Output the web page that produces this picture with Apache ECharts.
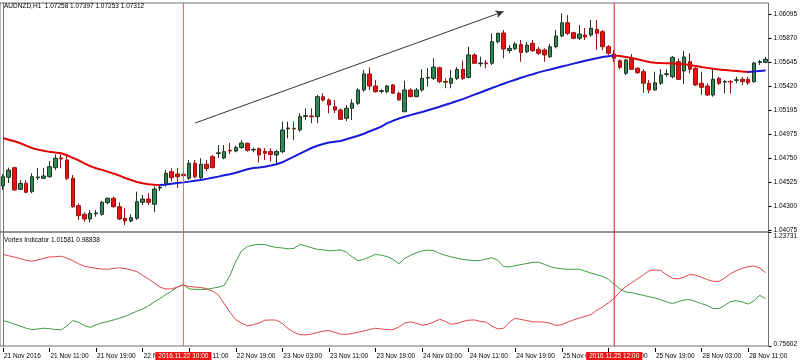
<!DOCTYPE html>
<html><head><meta charset="utf-8">
<script src="https://cdn.jsdelivr.net/npm/echarts@6/dist/echarts.min.js"></script>
<style>html,body{margin:0;padding:0;background:#fff}#c{width:800px;height:364px}</style>
</head><body><div id="c"></div>
<script>
const titleText = 'AUDNZD,H1  1.07258 1.07397 1.07253 1.07312';
const indicatorText = 'Vortex Indicator 1.01581 0.98838';
// trading sessions: [day, first hour, last hour]
const sessions = [['21 Nov',3,23],['22 Nov',0,23],['23 Nov',0,23],['24 Nov',0,23],['25 Nov',0,23],['28 Nov',0,14]];
const categories = [];
sessions.forEach(s => { for (let h = s[1]; h <= s[2]; h++) categories.push(s[0] + ' ' + (h < 10 ? '0' : '') + h + ':00'); });
const xTickLabels = ['21 Nov 2016','21 Nov 11:00','21 Nov 19:00','22 Nov 03:00','22 Nov 11:00','22 Nov 19:00','23 Nov 03:00','23 Nov 11:00','23 Nov 19:00','24 Nov 03:00','24 Nov 11:00','24 Nov 19:00','25 Nov 03:00','25 Nov 11:00','25 Nov 19:00','28 Nov 03:00','28 Nov 11:00'];
const priceTicks = [1.04075,1.04300,1.04525,1.04750,1.04975,1.05195,1.05420,1.05645,1.05870,1.06095];
const vortexTickLabels = ['0.75602','1.23731'];

const open = [1.04490,1.04569,1.04659,1.04456,1.04512,1.04434,1.04564,1.04559,1.04574,1.04659,
1.04750,1.04731,1.04559,1.04303,1.04222,1.04178,1.04227,1.04222,1.04331,1.04372,
1.04293,1.04185,1.04159,1.04185,1.04334,1.04365,1.04316,1.04468,1.04512,1.04621,
1.04600,1.04597,1.04559,1.04700,1.04565,1.04691,1.04762,1.04791,1.04750,1.04823,
1.04815,1.04848,1.04887,1.04825,1.04837,1.04812,1.04810,1.04778,1.04809,1.05023,
1.05028,1.05012,1.05139,1.05143,1.05137,1.05324,1.05293,1.05230,1.05199,1.05122,
1.05215,1.05262,1.05387,1.05537,1.05424,1.05374,1.05371,1.05434,1.05356,1.05183,
1.05387,1.05324,1.05387,1.05498,1.05496,1.05595,1.05466,1.05450,1.05496,1.05581,
1.05504,1.05715,1.05633,1.05640,1.05637,1.05839,1.05921,1.05757,1.05773,1.05813,
1.05746,1.05824,1.05768,1.05762,1.05699,1.05792,1.05893,1.06017,1.05924,1.05871,
1.05902,1.05902,1.05955,1.05933,1.05792,1.05724,1.05661,1.05543,1.05674,1.05590,
1.05558,1.05450,1.05387,1.05450,1.05533,1.05511,1.05652,1.05565,1.05652,1.05590,
1.05450,1.05424,1.05340,1.05496,1.05461,1.05467,1.05477,1.05487,1.05487,1.05465,
1.05645,1.05646];
const high = [1.04600,1.04659,1.04668,1.04543,1.04543,1.04606,1.04656,1.04656,1.04721,1.04784,
1.04784,1.04778,1.04590,1.04325,1.04241,1.04262,1.04262,1.04347,1.04378,1.04387,
1.04334,1.04278,1.04222,1.04434,1.04403,1.04419,1.04481,1.04497,1.04637,1.04653,
1.04656,1.04621,1.04731,1.04731,1.04747,1.04731,1.04778,1.04871,1.04871,1.04890,
1.04867,1.04918,1.04897,1.04846,1.04846,1.04843,1.04843,1.04825,1.05090,1.05090,
1.05090,1.05168,1.05215,1.05215,1.05340,1.05356,1.05309,1.05293,1.05215,1.05246,
1.05300,1.05403,1.05574,1.05599,1.05480,1.05393,1.05434,1.05443,1.05371,1.05474,
1.05403,1.05405,1.05581,1.05593,1.05684,1.05605,1.05496,1.05574,1.05602,1.05661,
1.05792,1.05731,1.05699,1.05668,1.05918,1.05924,1.05949,1.05808,1.05837,1.05855,
1.05837,1.05855,1.05790,1.05777,1.05818,1.05949,1.06105,1.06089,1.05933,1.05996,
1.05968,1.06043,1.06043,1.05949,1.05808,1.05762,1.05674,1.05677,1.05724,1.05602,
1.05581,1.05480,1.05558,1.05581,1.05581,1.05705,1.05684,1.05752,1.05731,1.05599,
1.05558,1.05450,1.05581,1.05511,1.05480,1.05480,1.05511,1.05511,1.05511,1.05652,
1.05668,1.05696];
const low = [1.04450,1.04515,1.04440,1.04450,1.04419,1.04419,1.04543,1.04553,1.04565,1.04637,
1.04653,1.04543,1.04284,1.04169,1.04153,1.04147,1.04200,1.04209,1.04316,1.04284,
1.04169,1.04122,1.04147,1.04169,1.04309,1.04309,1.04241,1.04440,1.04481,1.04528,
1.04468,1.04559,1.04543,1.04559,1.04553,1.04628,1.04653,1.04750,1.04737,1.04787,
1.04803,1.04834,1.04809,1.04803,1.04707,1.04731,1.04715,1.04684,1.04794,1.04934,
1.04918,1.04996,1.05106,1.05075,1.05075,1.05277,1.05168,1.05168,1.05106,1.05096,
1.05106,1.05246,1.05371,1.05387,1.05361,1.05356,1.05356,1.05349,1.05286,1.05183,
1.05318,1.05321,1.05371,1.05418,1.05480,1.05450,1.05403,1.05403,1.05480,1.05480,
1.05496,1.05630,1.05605,1.05590,1.05621,1.05824,1.05684,1.05731,1.05762,1.05652,
1.05733,1.05743,1.05715,1.05652,1.05687,1.05777,1.05881,1.05902,1.05862,1.05855,
1.05855,1.05886,1.05762,1.05762,1.05715,1.05649,1.05581,1.05527,1.05574,1.05537,
1.05361,1.05356,1.05380,1.05434,1.05511,1.05496,1.05480,1.05443,1.05543,1.05424,
1.05340,1.05330,1.05324,1.05434,1.05356,1.05356,1.05450,1.05434,1.05434,1.05455,
1.05621,1.05637];
const close = [1.04574,1.04637,1.04450,1.04512,1.04428,1.04574,1.04571,1.04581,1.04668,1.04747,
1.04740,1.04559,1.04293,1.04209,1.04178,1.04231,1.04234,1.04334,1.04372,1.04293,
1.04178,1.04159,1.04190,1.04340,1.04365,1.04334,1.04459,1.04475,1.04606,1.04565,
1.04574,1.04584,1.04700,1.04574,1.04691,1.04651,1.04659,1.04798,1.04809,1.04815,
1.04848,1.04890,1.04822,1.04830,1.04778,1.04794,1.04782,1.04810,1.05012,1.05031,
1.05021,1.05137,1.05146,1.05136,1.05324,1.05293,1.05246,1.05199,1.05112,1.05215,
1.05262,1.05387,1.05537,1.05424,1.05371,1.05380,1.05424,1.05356,1.05293,1.05387,
1.05324,1.05387,1.05496,1.05505,1.05602,1.05465,1.05460,1.05496,1.05579,1.05496,
1.05715,1.05637,1.05640,1.05633,1.05839,1.05918,1.05771,1.05777,1.05818,1.05738,
1.05808,1.05755,1.05731,1.05715,1.05792,1.05893,1.06017,1.05918,1.05871,1.05911,
1.05883,1.05965,1.05918,1.05792,1.05731,1.05684,1.05599,1.05668,1.05581,1.05549,
1.05450,1.05387,1.05455,1.05527,1.05539,1.05693,1.05487,1.05696,1.05581,1.05434,
1.05412,1.05340,1.05487,1.05450,1.05467,1.05461,1.05483,1.05465,1.05455,1.05640,
1.05652,1.05674];
const movingAverage = [1.04936,1.04921,1.04906,1.04888,1.04866,1.04843,1.04828,1.04817,1.04807,1.04800,
1.04794,1.04775,1.04751,1.04728,1.04700,1.04673,1.04654,1.04638,1.04622,1.04603,
1.04585,1.04562,1.04543,1.04525,1.04512,1.04503,1.04499,1.04497,1.04502,1.04509,
1.04515,1.04521,1.04528,1.04536,1.04543,1.04554,1.04565,1.04575,1.04587,1.04598,
1.04611,1.04627,1.04644,1.04655,1.04661,1.04668,1.04679,1.04691,1.04709,1.04737,
1.04762,1.04790,1.04817,1.04843,1.04864,1.04881,1.04895,1.04902,1.04909,1.04925,
1.04942,1.04958,1.04977,1.05000,1.05021,1.05044,1.05076,1.05098,1.05119,1.05136,
1.05151,1.05166,1.05181,1.05197,1.05213,1.05230,1.05248,1.05265,1.05283,1.05301,
1.05322,1.05343,1.05363,1.05384,1.05405,1.05425,1.05445,1.05465,1.05483,1.05502,
1.05519,1.05535,1.05552,1.05566,1.05579,1.05593,1.05607,1.05620,1.05634,1.05647,
1.05660,1.05673,1.05684,1.05695,1.05703,1.05710,1.05705,1.05696,1.05687,1.05674,
1.05662,1.05650,1.05643,1.05639,1.05637,1.05634,1.05631,1.05628,1.05621,1.05612,
1.05602,1.05594,1.05585,1.05578,1.05574,1.05569,1.05565,1.05559,1.05555,1.05559,
1.05564,1.05569];
// bar indices where the MA colour switches (red -> blue -> red -> blue)
const maColorChanges = [27, 105, 128];
const viPlus = [0.863,0.857,0.848,0.840,0.831,0.825,0.828,0.831,0.829,0.826,
0.824,0.841,0.863,0.856,0.842,0.835,0.845,0.854,0.859,0.866,
0.873,0.881,0.892,0.903,0.912,0.926,0.942,0.957,0.973,0.988,
1.005,1.016,0.997,0.995,0.995,0.995,1.000,1.004,1.012,1.054,
1.113,1.158,1.176,1.182,1.185,1.184,1.177,1.172,1.170,1.166,
1.168,1.185,1.179,1.171,1.164,1.162,1.158,1.159,1.162,1.152,
1.132,1.116,1.122,1.132,1.143,1.139,1.134,1.122,1.103,1.125,
1.139,1.149,1.157,1.161,1.159,1.147,1.139,1.132,1.127,1.121,
1.119,1.116,1.117,1.123,1.129,1.118,1.091,1.090,1.095,1.100,
1.104,1.109,1.110,1.101,1.091,1.085,1.082,1.080,1.080,1.080,
1.072,1.064,1.057,1.050,1.038,1.016,0.997,0.984,0.981,0.975,
0.970,0.964,0.959,0.951,0.942,0.935,0.943,0.950,0.952,0.944,
0.935,0.927,0.914,0.914,0.928,0.944,0.947,0.942,0.933,0.947,
0.970,0.956];
const viMinus = [1.143,1.137,1.131,1.125,1.118,1.114,1.119,1.126,1.132,1.133,
1.135,1.127,1.116,1.103,1.093,1.088,1.084,1.081,1.080,1.083,
1.086,1.083,1.077,1.070,1.054,1.039,1.022,1.004,0.997,0.997,
1.005,1.014,1.007,1.005,1.003,0.998,0.988,0.972,0.935,0.899,
0.867,0.852,0.841,0.846,0.853,0.865,0.866,0.865,0.851,0.829,
0.814,0.804,0.803,0.807,0.813,0.819,0.821,0.814,0.806,0.805,
0.809,0.814,0.820,0.826,0.831,0.828,0.825,0.825,0.836,0.853,
0.858,0.852,0.844,0.848,0.857,0.869,0.860,0.848,0.851,0.860,
0.865,0.866,0.860,0.857,0.840,0.828,0.831,0.857,0.873,0.868,
0.863,0.858,0.858,0.857,0.852,0.843,0.846,0.857,0.866,0.874,
0.881,0.889,0.907,0.921,0.938,0.957,0.986,1.007,1.023,1.040,
1.056,1.074,1.077,1.075,1.056,1.042,1.039,1.047,1.058,1.055,
1.046,1.036,1.029,1.029,1.044,1.062,1.074,1.084,1.091,1.094,
1.085,1.066];
const markerTimes = ['22 Nov 10:00','25 Nov 12:00'];
const markerLabels = ['2016.11.22 10:00','2016.11.25 12:00'];
const arrowStart = [33.33, 1.05077];
const arrowEnd = [86.27, 1.06122];

const FONT = 'Liberation Sans';
const FS = 6.5;
const FRAME = '#707070';
const RED = '#e00000', BLUE = '#1818d8';
const LINE1 = '#f25a5a', LINE2 = '#dd2020';
const priceMin = 1.04056, priceMax = 1.06202;
const viMin = 0.75602, viMax = 1.23731;

const chart = echarts.init(document.getElementById('c'), null, {renderer: 'canvas'});
const txt = {fontSize: FS, fontFamily: FONT, color: '#000', fontWeight: 'normal'};
const leftFrameAxis = (gi, mn, mx) => ({type: 'value', gridIndex: gi, position: 'left', offset: -3.45, min: mn, max: mx,
  axisLine: {show: true, lineStyle: {color: FRAME, width: 1}}, axisTick: {show: false}, axisLabel: {show: false}, splitLine: {show: false}});
// vertical marker line drawn as a two-point series spanning the panel's value range
const vLine = (gi, k, lo, hi) => ({type: 'line', xAxisIndex: gi, yAxisIndex: gi, symbol: 'none', silent: true, z: 6,
  data: [[markerTimes[k], lo], [markerTimes[k], hi]],
  lineStyle: {color: k === 0 ? LINE1 : LINE2, width: 1, type: 'solid'}, itemStyle: {color: k === 0 ? LINE1 : LINE2}});
// red time box under each marker line
const vLabel = k => ({type: 'line', xAxisIndex: 1, yAxisIndex: 1, data: [], symbol: 'none', z: 7,
  markLine: {silent: true, symbol: ['none', 'none'], animation: false,
    lineStyle: {color: 'rgba(0,0,0,0)', width: 1, type: 'solid'},
    label: {show: true, position: 'start', distance: 6, color: '#ffffff', backgroundColor: '#f01414', padding: [1, 3, 0, 3],
      fontSize: FS, fontFamily: FONT, formatter: markerLabels[k]},
    data: [{xAxis: markerTimes[k]}]}});

chart.setOption({
  animation: false,
  backgroundColor: '#ffffff',
  title: [
    {text: titleText, left: 4, top: 3, padding: 0, textStyle: txt},
    {text: indicatorText, left: 4, top: 237, padding: 0, textStyle: txt}
  ],
  grid: [
    {left: -1.45, right: 31, top: 3, height: 229, show: true, borderColor: FRAME, borderWidth: 1, backgroundColor: 'transparent'},
    {left: -1.45, right: 31, top: 232, height: 114, show: true, borderColor: FRAME, borderWidth: 1, backgroundColor: 'transparent'}
  ],
  xAxis: [
    {type: 'category', gridIndex: 0, data: categories, boundaryGap: true, show: false},
    {type: 'category', gridIndex: 1, data: categories, boundaryGap: true, offset: 2,
      axisLine: {show: false},
      axisTick: {show: true, alignWithLabel: true, interval: 7, length: 4, lineStyle: {color: '#000'}},
      axisLabel: {interval: 7, align: 'left', margin: 5, padding: [0, 0, 0, 1], fontSize: FS, fontFamily: FONT, color: '#000',
        formatter: (v, i) => { const k = categories.indexOf(v); return xTickLabels[Math.round(k / 8)] || ''; }},
      splitLine: {show: false}}
  ],
  yAxis: [
    {type: 'value', gridIndex: 0, position: 'right', min: priceMin, max: priceMax,
      axisLine: {show: false},
      axisTick: {show: true, length: 3, customValues: priceTicks, lineStyle: {color: '#000'}},
      axisLabel: {customValues: priceTicks, margin: 5, fontSize: FS, fontFamily: FONT, color: '#000', formatter: v => v.toFixed(5)},
      splitLine: {show: false}},
    {type: 'value', gridIndex: 1, position: 'right', min: viMin, max: viMax,
      axisLine: {show: false},
      axisTick: {show: true, length: 3, customValues: [viMin, viMax], lineStyle: {color: '#000'}},
      axisLabel: {customValues: [0.7645, 1.2200], margin: 5, fontSize: FS, fontFamily: FONT, color: '#000',
        formatter: v => (v < 1 ? vortexTickLabels[0] : vortexTickLabels[1])},
      splitLine: {show: false}},
    leftFrameAxis(0, priceMin, priceMax),
    leftFrameAxis(1, viMin, viMax)
  ],
  visualMap: {type: 'piecewise', show: false, seriesIndex: 1, dimension: 0,
    pieces: [
      {lt: maColorChanges[0], color: RED},
      {gte: maColorChanges[0], lt: maColorChanges[1], color: BLUE},
      {gte: maColorChanges[1], lt: maColorChanges[2], color: RED},
      {gte: maColorChanges[2], color: BLUE}
    ]},
  series: [
    {type: 'candlestick', xAxisIndex: 0, yAxisIndex: 0, barWidth: 4,
      data: open.map((o, i) => [o, close[i], low[i], high[i]]),
      itemStyle: {color: '#2f8a55', color0: '#e41414', borderColor: '#1e3322', borderColor0: '#9a1010', borderWidth: 1}},
    {type: 'line', xAxisIndex: 0, yAxisIndex: 0, data: movingAverage, showSymbol: false, symbol: 'none',
      lineStyle: {width: 2}, z: 3,
      markLine: {silent: true, animation: false, label: {show: false},
        data: [[
          {coord: arrowStart, symbol: 'none'},
          {coord: arrowEnd, symbol: 'arrow', symbolSize: [6, 8]}
        ]],
        lineStyle: {color: '#333', width: 1, type: 'solid'}, itemStyle: {color: '#333'}}},
    {type: 'line', xAxisIndex: 1, yAxisIndex: 1, data: viPlus, showSymbol: false, symbol: 'none',
      lineStyle: {width: 1, color: '#3f9a3f'}, itemStyle: {color: '#3f9a3f'}},
    {type: 'line', xAxisIndex: 1, yAxisIndex: 1, data: viMinus, showSymbol: false, symbol: 'none',
      lineStyle: {width: 1, color: '#e04848'}, itemStyle: {color: '#e04848'}},
    vLine(0, 0, priceMin, priceMax), vLine(0, 1, priceMin, priceMax),
    vLine(1, 0, viMin, viMax), vLine(1, 1, viMin, viMax),
    vLabel(0), vLabel(1)
  ]
});
</script></body></html>
